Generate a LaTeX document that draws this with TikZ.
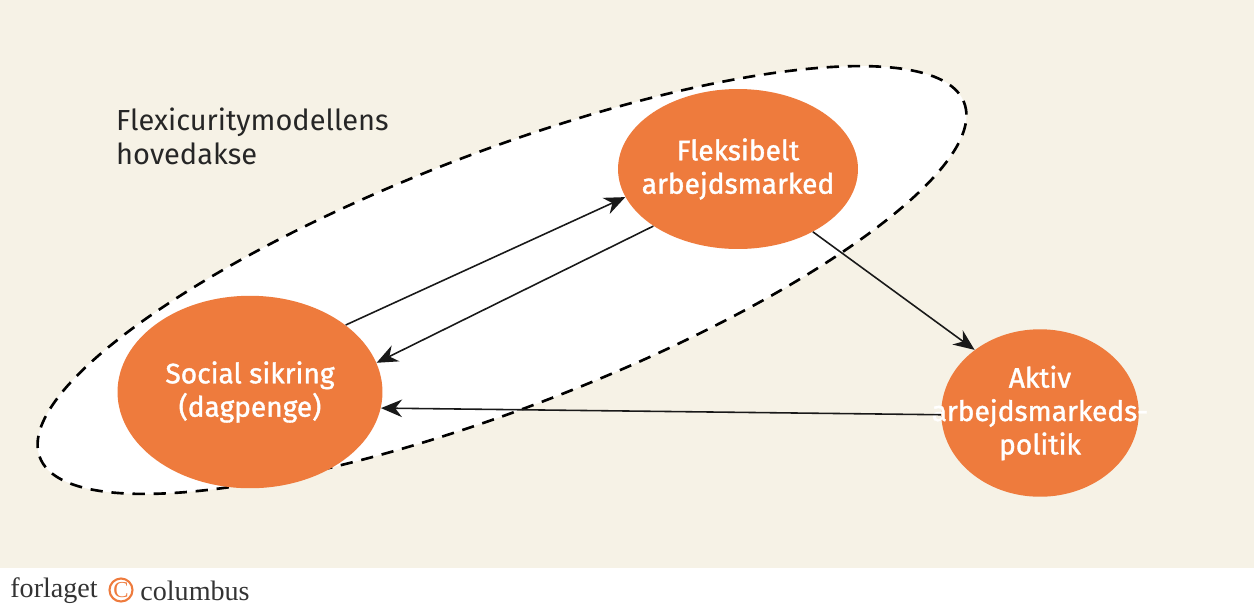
\documentclass[tikz,border=0pt]{standalone}
\usepackage{fontspec}
\setmainfont{Fira Sans}
\newfontfamily\medfont[FakeBold=1.3]{Fira Sans}
\newfontfamily\logofont{Liberation Serif}
\usetikzlibrary{shapes.geometric,arrows.meta}
\definecolor{cream}{HTML}{F6F2E6}
\definecolor{orng}{HTML}{EE7B3D}
\tikzset{
  blob/.style={ellipse,fill=orng,text=white,align=center,inner xsep=-1.2cm,inner ysep=-0.6cm,font=\medfont\fontsize{16}{19}\selectfont},
  conn/.style={-{Stealth[length=12pt,width=10pt]},line width=0.9pt,black!90}
}
\begin{document}
\begin{tikzpicture}[x=0.02cm,y=-0.02cm]
\useasboundingbox (0,0) rectangle (1254,610);
\fill[cream] (0,0) rectangle (1254,568);
\draw[line width=1.5pt,fill=white,dash pattern=on 7pt off 5pt] (502,280) ellipse[x radius=495,y radius=128,rotate=21];
\node[blob,minimum width=4.8cm,minimum height=3.2cm] (fl) at (738,169) {Fleksibelt\\arbejdsmarked};
\node[blob,minimum width=5.3cm,minimum height=3.85cm] (so) at (250,392) {Social sikring\\(dagpenge)};
\node[blob,minimum width=3.95cm,minimum height=3.35cm] (ak) at (1040,413) {Aktiv\\arbejdsmarkeds-\\politik};
\node[align=left,anchor=north west,font=\fontsize{16.5}{19}\selectfont,text=black!85] (lab) at (110,102) {Flexicuritymodellens\\hovedakse};
\draw[conn] (so.35) -- (fl.194);
\draw[conn] (fl.214) -- (so.13);
\draw[conn] (fl.320) -- (ak.136);
\draw[conn] (ak.181) -- (so.353);
\node[anchor=west,font=\logofont\fontsize{16}{18}\selectfont,text=black!80,inner sep=0pt] (logo1) at (10,591) {forlaget};
\node[circle,draw=orng,line width=1.2pt,minimum size=0.46cm,inner sep=0pt,text=orng,font=\logofont\fontsize{13}{14}\selectfont] (logoc) at (121,590) {C};
\node[anchor=west,font=\logofont\fontsize{16}{18}\selectfont,text=black!80,inner sep=0pt] (logo2) at (140,591) {columbus};
\end{tikzpicture}
\end{document}
